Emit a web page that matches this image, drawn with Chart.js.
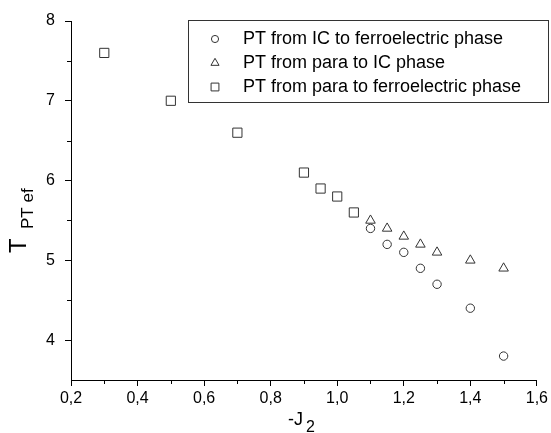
<!DOCTYPE html>
<html>
<head>
<meta charset="utf-8">
<script src="https://cdn.jsdelivr.net/npm/chart.js@4"></script>
<style>
  body { margin: 0; background: #fff; }
  canvas { display: block; }
</style>
</head>
<body>
<canvas id="chart" width="551" height="433"></canvas>
<script>
// Data
const icFerroX = [1.1, 1.15, 1.2, 1.25, 1.3, 1.4, 1.5];
const icFerroY = [5.4, 5.2, 5.1, 4.9, 4.7, 4.4, 3.8];

const paraIcX = [1.1, 1.15, 1.2, 1.25, 1.3, 1.4, 1.5];
const paraIcY = [5.5, 5.4, 5.3, 5.2, 5.1, 5.0, 4.9];

const paraFerroX = [0.3, 0.5, 0.7, 0.9, 0.95, 1.0, 1.05];
const paraFerroY = [7.6, 7.0, 6.6, 6.1, 5.9, 5.8, 5.6];

const seriesLabels = [
    'PT from IC to ferroelectric phase',
    'PT from para to IC phase',
    'PT from para to ferroelectric phase'
];

const xTicks = [0.2, 0.4, 0.6, 0.8, 1.0, 1.2, 1.4, 1.6];
const xTickLabels = ['0,2', '0,4', '0,6', '0,8', '1,0', '1,2', '1,4', '1,6'];
const xMinor = [0.3, 0.5, 0.7, 0.9, 1.1, 1.3, 1.5];
const yTicks = [4, 5, 6, 7, 8];
const yTickLabels = ['4', '5', '6', '7', '8'];
const yMinor = [4.5, 5.5, 6.5, 7.5];

const FONT = '"Liberation Sans", Arial, sans-serif';
const MARK = '#333';

function toPoints(xs, ys) {
    return xs.map((x, i) => ({ x: x, y: ys[i] }));
}

// minor ticks, axis titles with subscripts, framed legend
const decorPlugin = {
    id: 'decor',
    afterDraw(chart) {
        const ctx = chart.ctx;
        const area = chart.chartArea;
        const xs = chart.scales.x;
        const ys = chart.scales.y;
        ctx.save();
        ctx.strokeStyle = '#000';
        ctx.lineWidth = 1;
        ctx.beginPath();
        xMinor.forEach(v => {
            const px = Math.round(xs.getPixelForValue(v)) + 0.5;
            ctx.moveTo(px, area.bottom);
            ctx.lineTo(px, area.bottom + 4);
        });
        yMinor.forEach(v => {
            const py = Math.round(ys.getPixelForValue(v)) + 0.5;
            ctx.moveTo(area.left, py);
            ctx.lineTo(area.left - 4, py);
        });
        ctx.stroke();

        // x title: -J2
        ctx.fillStyle = '#000';
        ctx.textBaseline = 'alphabetic';
        ctx.textAlign = 'left';
        ctx.font = '18px ' + FONT;
        ctx.fillText('-J', 288, 425);
        ctx.font = '16px ' + FONT;
        ctx.fillText('2', 306, 432);

        // y title: T_PT ef (rotated)
        ctx.save();
        ctx.translate(26, 253);
        ctx.rotate(-Math.PI / 2);
        ctx.font = '24px ' + FONT;
        ctx.fillText('T', 0, 0);
        ctx.restore();
        ctx.save();
        ctx.translate(33, 229);
        ctx.rotate(-Math.PI / 2);
        ctx.font = '17px ' + FONT;
        ctx.fillText('PT ef', 0, 0);
        ctx.restore();

        // legend
        ctx.fillStyle = '#fff';
        ctx.fillRect(188, 20, 361, 83);
        ctx.strokeStyle = '#333';
        ctx.strokeRect(188.5, 20.5, 360, 82);
        const rows = [39, 63, 87];
        chart.data.datasets.forEach((ds, i) => {
            ctx.strokeStyle = MARK;
            ctx.fillStyle = 'rgba(0,0,0,0)';
            ctx.lineWidth = 1;
            Chart.helpers.drawPoint(ctx, {
                pointStyle: ds.pointStyle,
                radius: ds.pointRadius * 0.85,
                borderWidth: 1
            }, 215, rows[i]);
            ctx.fillStyle = '#000';
            ctx.font = '18px ' + FONT;
            ctx.textBaseline = 'middle';
            ctx.fillText(ds.label, 243, rows[i]);
        });
        ctx.restore();
    }
};

const pointOpts = {
    borderColor: MARK,
    backgroundColor: 'rgba(0,0,0,0)',
    borderWidth: 1,
    showLine: false
};

new Chart(document.getElementById('chart'), {
    type: 'scatter',
    data: {
        datasets: [
            Object.assign({ label: seriesLabels[0], data: toPoints(icFerroX, icFerroY), pointStyle: 'circle', pointRadius: 4.2 }, pointOpts),
            Object.assign({ label: seriesLabels[1], data: toPoints(paraIcX, paraIcY), pointStyle: 'triangle', pointRadius: 5.5 }, pointOpts),
            Object.assign({ label: seriesLabels[2], data: toPoints(paraFerroX, paraFerroY), pointStyle: 'rect', pointRadius: 6.5 }, pointOpts)
        ]
    },
    options: {
        responsive: false,
        animation: false,
        layout: { padding: { left: 0, top: 21, right: 12, bottom: 0 } },
        plugins: {
            legend: { display: false },
            tooltip: { enabled: false }
        },
        elements: { point: { hoverRadius: 0 } },
        scales: {
            x: {
                type: 'linear',
                min: 0.2,
                max: 1.6,
                afterBuildTicks: s => { s.ticks = xTicks.map(v => ({ value: v })); },
                afterFit: s => { s.height = 53; },
                ticks: {
                    color: '#000',
                    font: { family: FONT, size: 16 },
                    padding: 3,
                    maxRotation: 0,
                    callback: (v, i) => xTickLabels[i]
                },
                grid: { drawOnChartArea: false, tickLength: 6, color: '#000' },
                border: { color: '#000', width: 1 }
            },
            y: {
                type: 'linear',
                min: 3.5,
                max: 8,
                afterBuildTicks: s => { s.ticks = yTicks.map(v => ({ value: v })); },
                afterFit: s => { s.width = 71; },
                ticks: {
                    color: '#000',
                    font: { family: FONT, size: 16 },
                    padding: 10,
                    callback: (v, i) => yTickLabels[i]
                },
                grid: { drawOnChartArea: false, tickLength: 6, color: '#000' },
                border: { color: '#000', width: 1 }
            }
        }
    },
    plugins: [decorPlugin]
});
</script>
</body>
</html>
